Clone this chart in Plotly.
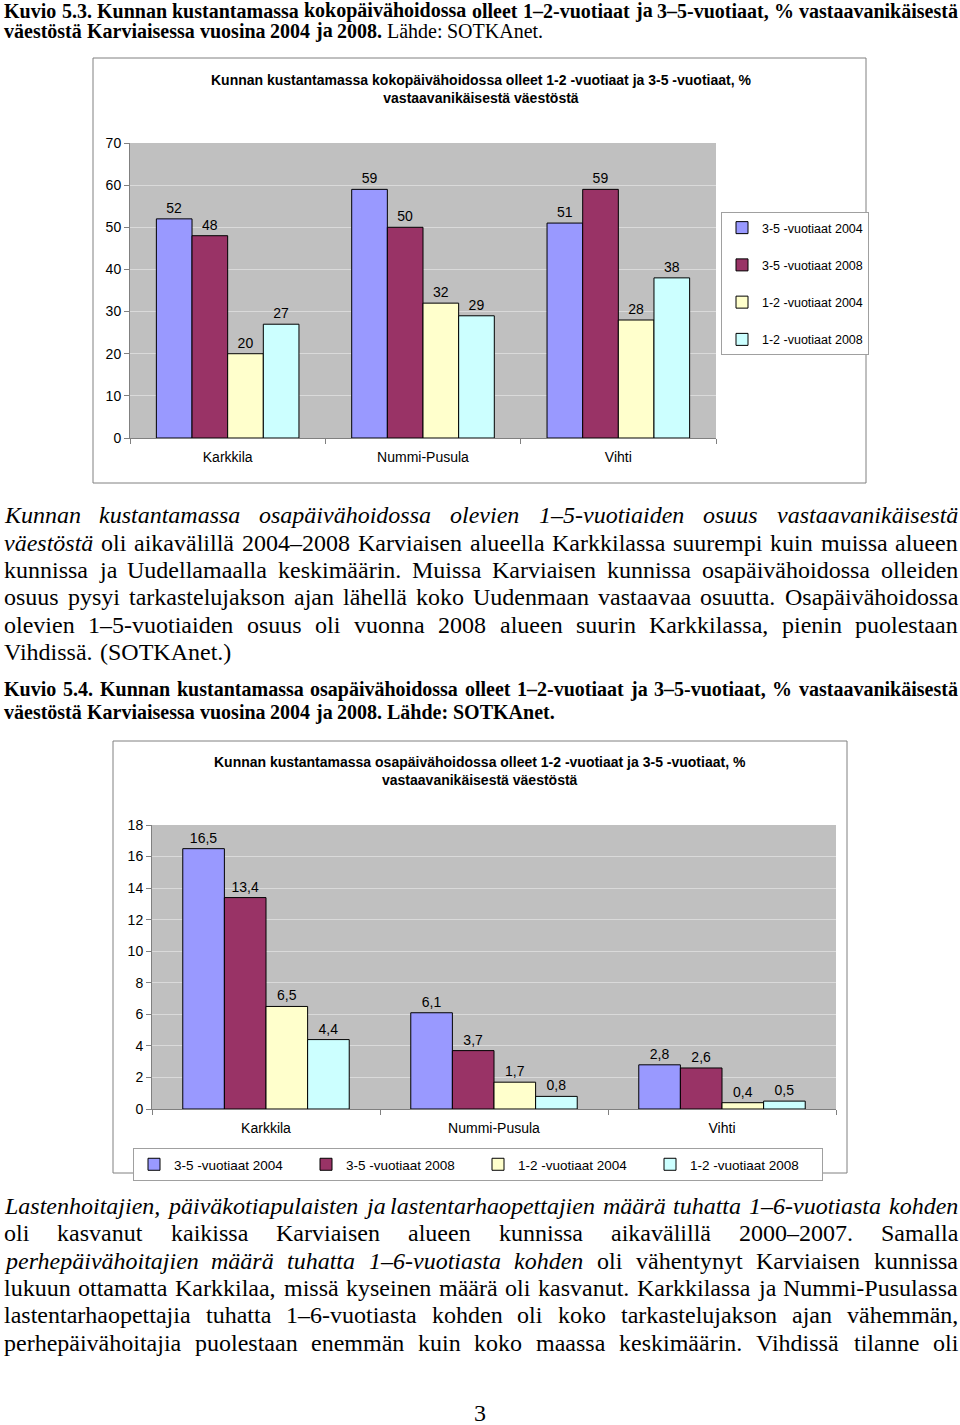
import plotly.graph_objects as go

# ---------------- DATA ----------------
categories = ["Karkkila", "Nummi-Pusula", "Vihti"]
series_names = ["3-5 -vuotiaat 2004", "3-5 -vuotiaat 2008",
                "1-2 -vuotiaat 2004", "1-2 -vuotiaat 2008"]

# Kuvio 5.3 (kokopäivähoito)
full_35_2004 = [52, 59, 51]
full_35_2008 = [48, 50, 59]
full_12_2004 = [20, 32, 28]
full_12_2008 = [27, 29, 38]

# Kuvio 5.4 (osapäivähoito)
part_35_2004 = [16.5, 6.1, 2.8]
part_35_2008 = [13.4, 3.7, 2.6]
part_12_2004 = [6.5, 1.7, 0.4]
part_12_2008 = [4.4, 0.8, 0.5]

chart1_title = "Kunnan kustantamassa kokopäivähoidossa olleet 1-2 -vuotiaat ja 3-5 -vuotiaat, %<br>vastaavanikäisestä väestöstä"
chart2_title = "Kunnan kustantamassa osapäivähoidossa olleet 1-2 -vuotiaat ja 3-5 -vuotiaat, %<br>vastaavanikäisestä väestöstä"

# Document text: lines of (word, style); style r=regular, i=italic, b=bold
def W(text, style):
    return [(w, style) for w in text.split()]

heading1 = [
    W("Kuvio 5.3. Kunnan kustantamassa kokopäivähoidossa olleet 1–2-vuotiaat ja 3–5-vuotiaat, % vastaavanikäisestä", "b"),
    W("väestöstä Karviaisessa vuosina 2004 ja 2008.", "b") + W("Lähde: SOTKAnet.", "r"),
]
para1 = [
    W("Kunnan kustantamassa osapäivähoidossa olevien 1–5-vuotiaiden osuus vastaavanikäisestä", "i"),
    W("väestöstä", "i") + W("oli aikavälillä 2004–2008 Karviaisen alueella Karkkilassa suurempi kuin muissa alueen", "r"),
    W("kunnissa ja Uudellamaalla keskimäärin. Muissa Karviaisen kunnissa osapäivähoidossa olleiden", "r"),
    W("osuus pysyi tarkastelujakson ajan lähellä koko Uudenmaan vastaavaa osuutta. Osapäivähoidossa", "r"),
    W("olevien 1–5-vuotiaiden osuus oli vuonna 2008 alueen suurin Karkkilassa, pienin puolestaan", "r"),
    W("Vihdissä. (SOTKAnet.)", "r"),
]
heading2 = [
    W("Kuvio 5.4. Kunnan kustantamassa osapäivähoidossa olleet 1–2-vuotiaat ja 3–5-vuotiaat, % vastaavanikäisestä", "b"),
    W("väestöstä Karviaisessa vuosina 2004 ja 2008. Lähde: SOTKAnet.", "b"),
]
para2 = [
    W("Lastenhoitajien, päiväkotiapulaisten ja lastentarhaopettajien määrä tuhatta 1–6-vuotiasta kohden", "i"),
    W("oli kasvanut kaikissa Karviaisen alueen kunnissa aikavälillä 2000–2007. Samalla", "r"),
    W("perhepäivähoitajien määrä tuhatta 1–6-vuotiasta kohden", "i") + W("oli vähentynyt Karviaisen kunnissa", "r"),
    W("lukuun ottamatta Karkkilaa, missä kyseinen määrä oli kasvanut. Karkkilassa ja Nummi-Pusulassa", "r"),
    W("lastentarhaopettajia tuhatta 1–6-vuotiasta kohden oli koko tarkastelujakson ajan vähemmän,", "r"),
    W("perhepäivähoitajia puolestaan enemmän kuin koko maassa keskimäärin. Vihdissä tilanne oli", "r"),
]
page_number = "3"

# ---------------- STYLE / LAYOUT HELPERS ----------------
W_PX, H_PX = 960, 1425
colors = ["#9999FF", "#993366", "#FFFFCC", "#CCFFFF"]


def px(x):
    return x / W_PX


def py(y):
    return 1 - y / H_PX


LOW = "abcdefghijklmnopqrstuvwxyz"
UP = "ABCDEFGHIJKLMNOPQRSTUVWXYZ"
roman_l = [444, 500, 444, 500, 444, 333, 500, 500, 278, 278, 500, 278, 778, 500, 500, 500, 500, 333, 389, 278, 500, 500, 722, 500, 500, 444]
roman_u = [722, 667, 667, 722, 611, 556, 722, 722, 333, 389, 722, 611, 889, 722, 722, 556, 722, 667, 556, 611, 722, 722, 944, 722, 722, 611]
ital_l = [500, 500, 444, 500, 444, 278, 500, 500, 278, 278, 444, 278, 722, 500, 500, 500, 500, 389, 389, 278, 500, 444, 667, 444, 444, 389]
ital_u = [611, 611, 667, 722, 611, 611, 722, 722, 333, 444, 667, 556, 833, 667, 722, 611, 722, 611, 500, 556, 722, 611, 833, 611, 556, 556]
bold_l = [500, 556, 444, 556, 444, 333, 500, 556, 278, 333, 556, 278, 833, 556, 500, 556, 556, 444, 389, 333, 556, 500, 722, 500, 500, 444]
bold_u = [722, 667, 722, 722, 667, 611, 778, 778, 389, 500, 778, 667, 944, 722, 778, 611, 778, 722, 556, 667, 722, 722, 1000, 722, 722, 667]


def build(lw, uw, punct):
    d = dict(zip(LOW, lw))
    d.update(zip(UP, uw))
    for c in "0123456789":
        d[c] = 500
    d.update(punct)
    d["ä"] = d["a"]
    d["ö"] = d["o"]
    return d

WIDTHS = {
    "r": build(roman_l, roman_u, {" ": 250, "%": 833, "(": 333, ")": 333, ",": 250, "-": 333, ".": 250, ":": 278, "–": 500}),
    "i": build(ital_l, ital_u, {" ": 250, "%": 833, "(": 333, ")": 333, ",": 250, "-": 333, ".": 250, ":": 333, "–": 500}),
    "b": build(bold_l, bold_u, {" ": 250, "%": 1000, "(": 333, ")": 333, ",": 250, "-": 333, ".": 250, ":": 333, "–": 500}),
}


def word_width(word, style, size):
    t = WIDTHS[style]
    return sum(t.get(c, 500) for c in word) * size / 1000.0


SERIF = "Liberation Serif, Times New Roman, serif"
ANNS = []


def add_line(words, y, size, justify, left=3, right=957):
    widths = [word_width(w, s, size) for w, s in words]
    space = 0.25 * size
    if justify and len(words) > 1:
        gap = (right - left - sum(widths)) / (len(words) - 1)
        gap = max(gap, space * 0.6)
    else:
        gap = space
    x = left
    for (w, s), wd in zip(words, widths):
        txt = w if s == "r" else ("<b>%s</b>" % w if s == "b" else "<i>%s</i>" % w)
        ANNS.append(dict(x=px(x - 1), y=py(y), xref="paper", yref="paper",
                         xanchor="left", yanchor="middle", showarrow=False,
                         text=txt, font=dict(family=SERIF, size=size, color="black")))
        x += wd + gap


def add_block(lines, ys, size, last_justified=False):
    for i, (ln, y) in enumerate(zip(lines, ys)):
        is_last = i == len(lines) - 1
        add_line(ln, y, size, justify=(not is_last) or last_justified)

BODY = 24
HEAD = 20
add_block(heading1, [10.5, 30.5], HEAD)
add_block(para1, [515, 543, 570, 597, 625, 652], BODY)
add_block(heading2, [689, 712], HEAD)
add_block(para2, [1206, 1233, 1261, 1288, 1315, 1343], BODY, last_justified=True)
ANNS.append(dict(x=0.5, y=py(1413), xref="paper", yref="paper", xanchor="center",
                 yanchor="middle", showarrow=False, text=page_number,
                 font=dict(family=SERIF, size=BODY, color="black")))

# chart titles
SANS = "Liberation Sans, Arial, sans-serif"
ANNS.append(dict(x=px(481), y=py(88.5), xref="paper", yref="paper", xanchor="center",
                 yanchor="middle", showarrow=False, text="<b>%s</b>" % chart1_title,
                 font=dict(family=SANS, size=14, color="black")))
ANNS.append(dict(x=px(480), y=py(771), xref="paper", yref="paper", xanchor="center",
                 yanchor="middle", showarrow=False, text="<b>%s</b>" % chart2_title,
                 font=dict(family=SANS, size=14, color="black")))

# ---------------- FIGURE ----------------
fig = go.Figure()

chart1 = [full_35_2004, full_35_2008, full_12_2004, full_12_2008]
chart2 = [part_35_2004, part_35_2008, part_12_2004, part_12_2008]

for name, vals, col in zip(series_names, chart1, colors):
    fig.add_trace(go.Bar(
        x=categories, y=vals, name=name, marker=dict(color=col, line=dict(color="black", width=1)),
        text=[str(v) for v in vals], textposition="outside", cliponaxis=False,
        textfont=dict(family=SANS, size=14, color="black"),
        xaxis="x", yaxis="y", legend="legend", legendgroup=name + "_1"))

for name, vals, col in zip(series_names, chart2, colors):
    fig.add_trace(go.Bar(
        x=categories, y=vals, name=name, marker=dict(color=col, line=dict(color="black", width=1)),
        text=[("%.1f" % v).replace(".", ",") for v in vals], textposition="outside", cliponaxis=False,
        textfont=dict(family=SANS, size=14, color="black"),
        xaxis="x2", yaxis="y2", legend="legend2"))

axis_common = dict(showline=True, linecolor="#808080", linewidth=1, ticks="outside",
                   ticklen=5, tickcolor="#808080", tickfont=dict(family=SANS, size=14, color="black"))

fig.update_layout(
    width=W_PX, height=H_PX, margin=dict(l=0, r=0, t=0, b=0, autoexpand=False),
    paper_bgcolor="white", plot_bgcolor="#C0C0C0",
    barmode="group", bargap=0.27, bargroupgap=0,
    showlegend=True,
    xaxis=dict(domain=[px(130), px(716)], anchor="y", type="category", tickson="boundaries",
               showgrid=False, ticklabelstandoff=6, **axis_common),
    yaxis=dict(domain=[py(438), py(143)], anchor="x", range=[0, 70], dtick=10,
               showgrid=True, gridcolor="#DADADA", zeroline=False, **axis_common),
    xaxis2=dict(domain=[px(152), px(836)], anchor="y2", type="category", tickson="boundaries",
                showgrid=False, ticklabelstandoff=6, **axis_common),
    yaxis2=dict(domain=[py(1109), py(825)], anchor="x2", range=[0, 18], dtick=2,
                showgrid=True, gridcolor="#DADADA", zeroline=False, **axis_common),
    legend=dict(x=px(721), y=py(212), xanchor="left", yanchor="top", bgcolor="white",
                bordercolor="#A0A0A0", borderwidth=1, font=dict(family=SANS, size=12.5, color="black"),
                tracegroupgap=18, itemwidth=30, traceorder="grouped"),
    legend2=dict(x=px(133), y=py(1148), xanchor="left", yanchor="top", orientation="h",
                 bgcolor="white", bordercolor="#A0A0A0", borderwidth=1,
                 entrywidth=127, entrywidthmode="pixels", itemwidth=30,
                 font=dict(family=SANS, size=13.5, color="black")),
    annotations=ANNS,
    shapes=[
        dict(type="rect", xref="paper", yref="paper", x0=px(93), x1=px(866), y0=py(483), y1=py(58),
             line=dict(color="#808080", width=1), layer="below"),
        dict(type="rect", xref="paper", yref="paper", x0=px(113), x1=px(847), y0=py(1173), y1=py(741),
             line=dict(color="#808080", width=1), layer="below"),
    ],
)

post = """
document.body.style.margin='0px';
document.body.style.padding='0px';
document.body.style.overflow='hidden';
"""
fig.write_html("out.html", post_script=post, config={"displayModeBar": False})
